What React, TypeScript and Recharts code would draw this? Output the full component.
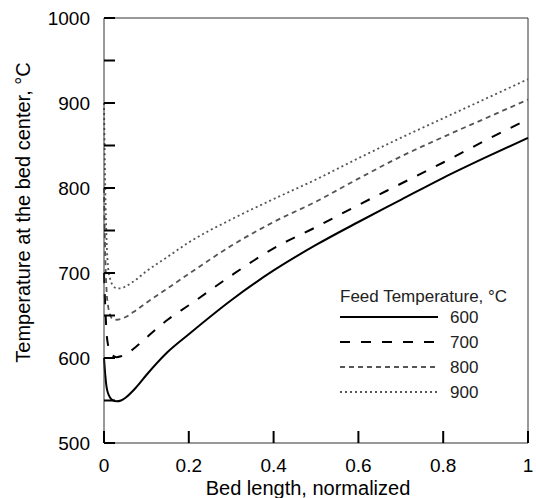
import {
  LineChart,
  Line,
  XAxis,
  YAxis,
  Legend,
  ReferenceLine,
} from 'recharts'

// normalized bed position (dense near the inlet where the curves dip)
const bedPos = [
  0, 0.003, 0.006, 0.01, 0.015, 0.02, 0.03, 0.04, 0.05, 0.075, 0.1, 0.15, 0.2,
  0.3, 0.4, 0.5, 0.6, 0.7, 0.8, 0.9, 1,
]

// temperature at the bed center, one list per feed temperature
const feed600 = [
  600, 580, 566, 558, 553, 550.5, 549, 550, 553, 565, 580, 607, 628, 668, 703,
  733, 760, 786, 812, 836, 859,
]
const feed700 = [
  700, 660, 630, 614, 606, 603, 601, 602, 604, 613, 624, 645, 662, 697, 729,
  754, 780, 805, 830, 856, 881,
]
const feed800 = [
  800, 720, 680, 660, 650, 646, 645, 646, 648, 656, 665, 682, 699, 732, 760,
  784, 811, 837, 860, 882, 904,
]
const feed900 = [
  900, 800, 740, 705, 692, 686, 682, 682, 684, 692, 702, 719, 736, 763, 787,
  810, 835, 859, 882, 905, 928,
]

const seriesNames = ['600', '700', '800', '900']
const xTicks = [0, 0.2, 0.4, 0.6, 0.8, 1]
const xTickLabels = ['0', '0.2', '0.4', '0.6', '0.8', '1']
const yTicks = [500, 550, 600, 650, 700, 750, 800, 850, 900, 950, 1000]

const data = bedPos.map((x, i) => ({
  x,
  '600': feed600[i],
  '700': feed700[i],
  '800': feed800[i],
  '900': feed900[i],
}))

const styles: Record<string, { stroke: string; dash?: string; width: number }> = {
  '600': { stroke: '#000', width: 2 },
  '700': { stroke: '#000', dash: '10 11', width: 2 },
  '800': { stroke: '#555', dash: '5 4', width: 1.8 },
  '900': { stroke: '#555', dash: '2 3', width: 1.8 },
}

const FONT = '"Liberation Sans", Arial, sans-serif'

// label outside, tick mark pointing into the plot
const YTick = (props: any) => {
  const { x, y, payload } = props
  const v = Number(payload.value)
  const axisX = x + 14
  return (
    <g>
      <path d={`M${axisX},${y}h11`} stroke="#000" strokeWidth={2} fill="none" />
      {v % 100 === 0 && (
        <text
          x={x}
          y={y}
          dy="0.355em"
          textAnchor="end"
          fontSize={19}
          fontFamily={FONT}
          fill="#000"
        >
          {v}
        </text>
      )}
    </g>
  )
}

const XTick = (props: any) => {
  const { x, y, payload } = props
  const v = Number(payload.value)
  const axisY = y - 16
  const idx = xTicks.indexOf(v)
  const label = idx >= 0 ? xTickLabels[idx] : String(v)
  return (
    <g>
      <path d={`M${x},${axisY}v-12`} stroke="#000" strokeWidth={2} fill="none" />
      <text
        x={x}
        y={y}
        dy="0.71em"
        textAnchor="middle"
        fontSize={19}
        fontFamily={FONT}
        fill="#000"
      >
        {label}
      </text>
    </g>
  )
}

const LegendBox = (props: any) => {
  const items = props.payload || []
  return (
    <svg width={200} height={125} style={{ display: 'block' }}>
      <text x={0} y={21.5} fontSize={17} fontFamily={FONT} fill="#222">
        Feed Temperature, °C
      </text>
      {items.map((it: any, i: number) => {
        const s = styles[it.value]
        const cy = 37 + i * 25
        return (
          <g key={it.value}>
            <line
              x1={0}
              x2={98}
              y1={cy}
              y2={cy}
              stroke={s.stroke}
              strokeWidth={s.width}
              strokeDasharray={s.dash}
            />
            <text
              x={110}
              y={cy}
              dy="0.355em"
              fontSize={17}
              fontFamily={FONT}
              fill="#222"
            >
              {it.value}
            </text>
          </g>
        )
      })}
    </svg>
  )
}

export default function App() {
  return (
    <div style={{ position: 'absolute', left: 0, top: 0, background: '#fff' }}>
      <LineChart
        width={536}
        height={498}
        data={data}
        margin={{ top: 18, right: 8, bottom: 0, left: 40 }}
      >
        <XAxis
          dataKey="x"
          type="number"
          domain={[0, 1]}
          ticks={xTicks}
          height={55}
          tickSize={0}
          tickMargin={16}
          tickLine={false}
          axisLine={{ stroke: '#333' }}
          tick={<XTick />}
          label={(p: any) => {
            const vb = p.viewBox
            return (
              <text
                x={vb.x + vb.width / 2 - 8}
                y={vb.y + 52}
                textAnchor="middle"
                fontSize={20}
                fontFamily={FONT}
                fill="#000"
              >
                Bed length, normalized
              </text>
            )
          }}
        />
        <YAxis
          type="number"
          domain={[500, 1000]}
          ticks={yTicks}
          width={64}
          tickSize={0}
          tickMargin={14}
          tickLine={false}
          axisLine={{ stroke: '#333' }}
          tick={<YTick />}
          interval={0}
          label={(p: any) => {
            const vb = p.viewBox
            const cx = 30
            const cy = vb.y + vb.height / 2 - 18
            return (
              <text
                x={cx}
                y={cy}
                transform={`rotate(-90 ${cx} ${cy})`}
                textAnchor="middle"
                fontSize={20}
                fontFamily={FONT}
                fill="#000"
              >
                Temperature at the bed center, °C
              </text>
            )
          }}
        />
        <ReferenceLine y={1000} stroke="#333" />
        <ReferenceLine x={1} stroke="#333" />
        <Legend
          layout="horizontal"
          verticalAlign="middle"
          wrapperStyle={{ position: 'absolute', left: 340, top: 280, width: 200 }}
          content={<LegendBox />}
        />
        {seriesNames.map((name) => (
          <Line
            key={name}
            type="monotone"
            dataKey={name}
            name={name}
            stroke={styles[name].stroke}
            strokeWidth={styles[name].width}
            strokeDasharray={styles[name].dash}
            dot={false}
            activeDot={false}
            isAnimationActive={false}
          />
        ))}
      </LineChart>
    </div>
  )
}
